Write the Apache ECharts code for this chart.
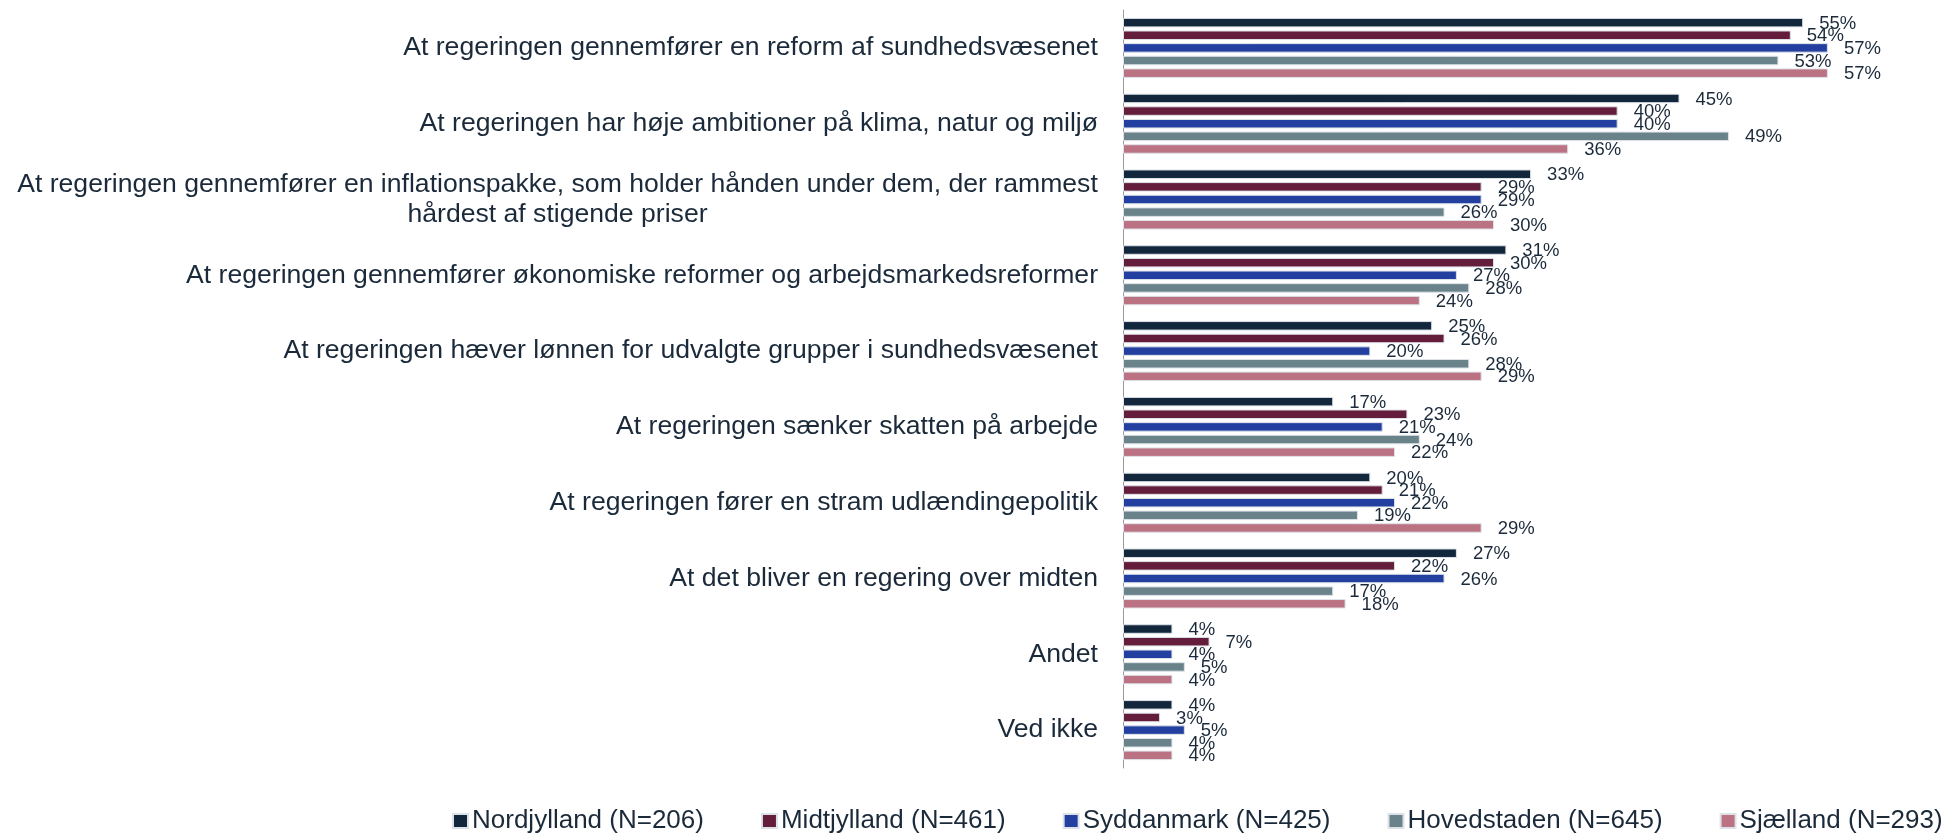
<!DOCTYPE html>
<html>
<head>
<meta charset="utf-8">
<title>Regeringens prioriteter fordelt på region</title>
<script src="https://cdn.jsdelivr.net/npm/echarts@6/dist/echarts.min.js"></script>
<style>
  html, body { margin: 0; padding: 0; background: #ffffff; }
  #chart { width: 1947px; height: 836px; }
</style>
</head>
<body>
<div id="chart"></div>
<script>
// Survey answers (percent) per region
const categories = [
  'At regeringen gennemfører en reform af sundhedsvæsenet',
  'At regeringen har høje ambitioner på klima, natur og miljø',
  'At regeringen gennemfører en inflationspakke, som holder hånden under dem, der rammest\nhårdest af stigende priser',
  'At regeringen gennemfører økonomiske reformer og arbejdsmarkedsreformer',
  'At regeringen hæver lønnen for udvalgte grupper i sundhedsvæsenet',
  'At regeringen sænker skatten på arbejde',
  'At regeringen fører en stram udlændingepolitik',
  'At det bliver en regering over midten',
  'Andet',
  'Ved ikke'
];

const seriesNames = [
  'Nordjylland (N=206)',
  'Midtjylland (N=461)',
  'Syddanmark (N=425)',
  'Hovedstaden (N=645)',
  'Sjælland (N=293)'
];

const nordjylland = [55, 45, 33, 31, 25, 17, 20, 27, 4, 4];
const midtjylland = [54, 40, 29, 30, 26, 23, 21, 22, 7, 3];
const syddanmark  = [57, 40, 29, 27, 20, 21, 22, 26, 4, 5];
const hovedstaden = [53, 49, 26, 28, 28, 24, 19, 17, 5, 4];
const sjaelland   = [57, 36, 30, 24, 29, 22, 29, 18, 4, 4];

const seriesValues = [nordjylland, midtjylland, syddanmark, hovedstaden, sjaelland];
const seriesColors = ['#13273c', '#641d3a', '#2340a0', '#6a838b', '#bb7383'];

const FONT = '"Liberation Sans", Arial, Helvetica, sans-serif';
const TEXT = '#1b2a3a';
const LABEL_SIZE = 26.6;

// Width of the longest line of a wrapped category, so the shorter line can be centred under it
function lineWidth(str) {
  const c = document.createElement('canvas').getContext('2d');
  c.font = LABEL_SIZE + 'px ' + FONT;
  return Math.ceil(c.measureText(str).width);
}

function categoryLabel(value) {
  if (value.indexOf('\n') < 0) return value;
  return '{w|' + value + '}';
}
const wrapped = categories.find(c => c.indexOf('\n') >= 0) || '';
const wrapWidth = Math.max(...wrapped.split('\n').map(lineWidth));

const chart = echarts.init(document.getElementById('chart'), null, { renderer: 'canvas' });

chart.setOption({
  backgroundColor: '#ffffff',
  animation: false,
  textStyle: { fontFamily: FONT, color: TEXT },
  grid: { left: 1123, top: 10, width: 742, height: 758, containLabel: false },
  legend: {
    data: seriesNames,
    left: 452,
    top: 808,
    padding: 0,
    itemGap: 57,
    itemWidth: 15,
    itemHeight: 14,
    icon: 'rect',
    textStyle: { fontFamily: FONT, fontSize: 26, color: TEXT, padding: [0, 0, 0, -1] }
  },
  xAxis: {
    type: 'value',
    min: 0,
    max: 60,
    show: false,
    splitLine: { show: false }
  },
  yAxis: {
    type: 'category',
    data: categories,
    inverse: true,
    axisTick: { show: false },
    axisLine: { show: true, lineStyle: { color: '#9a9a9a', width: 1 } },
    axisLabel: {
      margin: 25,
      fontFamily: FONT,
      fontSize: LABEL_SIZE,
      color: TEXT,
      lineHeight: 30,
      formatter: categoryLabel,
      rich: {
        w: {
          width: wrapWidth,
          align: 'center',
          fontFamily: FONT,
          fontSize: LABEL_SIZE,
          color: TEXT,
          lineHeight: 30
        }
      }
    }
  },
  series: seriesNames.map((name, i) => ({
    name: name,
    type: 'bar',
    data: seriesValues[i],
    barWidth: 9.5,
    barGap: '33%',
    itemStyle: {
      color: seriesColors[i],
      borderColor: '#dde2e8',
      borderWidth: 1
    },
    label: {
      show: true,
      position: 'right',
      distance: 16,
      offset: [0, 1],
      formatter: '{c}%',
      fontFamily: FONT,
      fontSize: 18.5,
      color: TEXT
    }
  }))
});
</script>
</body>
</html>
